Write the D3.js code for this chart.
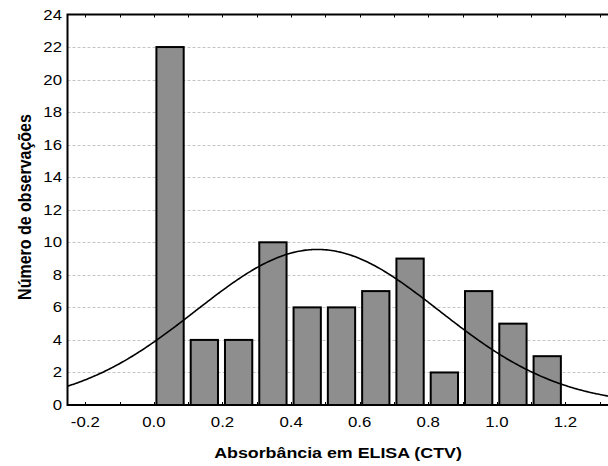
<!DOCTYPE html>
<html>
<head>
<meta charset="utf-8">
<script src="https://cdn.jsdelivr.net/npm/d3@7"></script>
<style>
  body { margin: 0; background: #fff; }
  svg { display: block; font-family: "Liberation Sans", Arial, sans-serif; }
</style>
</head>
<body>
<svg id="main" width="608" height="466"></svg>
<script>
// histogram bins (lower edge of each 0.1 wide class) and counts
var binStarts = [0.0, 0.1, 0.2, 0.3, 0.4, 0.5, 0.6, 0.7, 0.8, 0.9, 1.0, 1.1];
var counts = [22, 4, 4, 10, 6, 6, 7, 9, 2, 7, 5, 3];
var binWidth = 0.1;

var xTicks = [-0.2, 0.0, 0.2, 0.4, 0.6, 0.8, 1.0, 1.2];
var xTickLabels = ["-0.2", "0.0", "0.2", "0.4", "0.6", "0.8", "1.0", "1.2"];
var xMinorTicks = [-0.2, -0.1, 0.0, 0.1, 0.2, 0.3, 0.4, 0.5, 0.6, 0.7, 0.8, 0.9, 1.0, 1.1, 1.2, 1.3];
var yTicks = [0, 2, 4, 6, 8, 10, 12, 14, 16, 18, 20, 22, 24];

var margin = {left: 67.5, top: 14.5, right: -4, bottom: 61};
var W = 608, H = 466;
var stretch = 1.15; // text in the original looks a bit wide

var svg = d3.select("#main");

var x = d3.scaleLinear()
  .domain([-0.252, 1.336])
  .range([margin.left, W - margin.right]);
var y = d3.scaleLinear()
  .domain([0, 24])
  .range([H - margin.bottom, margin.top]);

// fitted normal curve, parameters taken from the binned counts
var n = d3.sum(counts);
var mids = binStarts.map(function(b) { return b + binWidth / 2; });
var mean = d3.sum(mids, function(m, i) { return m * counts[i]; }) / n;
var sd = Math.sqrt(d3.sum(mids, function(m, i) { return counts[i] * (m - mean) * (m - mean); }) / (n - 1));

function normalCount(v) {
  var z = (v - mean) / sd;
  return n * binWidth * Math.exp(-0.5 * z * z) / (sd * Math.sqrt(2 * Math.PI));
}

// grid lines
svg.append("g").selectAll("line")
  .data(yTicks.slice(1, -1))
  .enter().append("line")
  .attr("x1", x.range()[0]).attr("x2", x.range()[1])
  .attr("y1", function(d) { return Math.round(y(d)) + 0.5; })
  .attr("y2", function(d) { return Math.round(y(d)) + 0.5; })
  .style("stroke", "#c4c4c4")
  .style("stroke-dasharray", "3,2");

// bars
svg.append("g").selectAll("rect")
  .data(counts)
  .enter().append("rect")
  .attr("x", function(d, i) { return x(binStarts[i]) + 2.5; })
  .attr("width", function(d, i) { return x(binStarts[i] + binWidth) - x(binStarts[i]) - 7; })
  .attr("y", function(d) { return y(d); })
  .attr("height", function(d) { return y(0) - y(d); })
  .style("fill", "#8e8e8e")
  .style("stroke", "black")
  .style("stroke-width", 2);

// normal curve
var curveX = d3.range(x.domain()[0], x.domain()[1] + 0.001, 0.005);
var line = d3.line()
  .x(function(d) { return x(d); })
  .y(function(d) { return y(normalCount(d)); })
  .curve(d3.curveBasis);

svg.append("path")
  .datum(curveX)
  .attr("d", line)
  .style("fill", "none")
  .style("stroke", "black")
  .style("stroke-width", 1.6);

// frame
svg.append("rect")
  .attr("x", x.range()[0]).attr("y", y.range()[1])
  .attr("width", x.range()[1] - x.range()[0])
  .attr("height", y.range()[0] - y.range()[1])
  .style("fill", "none")
  .style("stroke", "black")
  .style("stroke-width", 2);

// inward ticks top and bottom
var tickG = svg.append("g");
xMinorTicks.forEach(function(t) {
  var px = Math.round(x(t)) + 0.5;
  tickG.append("line").attr("x1", px).attr("x2", px)
    .attr("y1", y(0)).attr("y2", y(0) - 3)
    .style("stroke", "black");
  tickG.append("line").attr("x1", px).attr("x2", px)
    .attr("y1", y(24)).attr("y2", y(24) + 3)
    .style("stroke", "black");
});

// x tick labels
svg.append("g").selectAll("text")
  .data(xTicks)
  .enter().append("text")
  .attr("transform", function(d) { return "translate(" + x(d) + "," + (y(0) + 22) + ") scale(1.2,1)"; })
  .attr("text-anchor", "middle")
  .style("font-size", "14px")
  .text(function(d, i) { return xTickLabels[i]; });

// y tick labels
svg.append("g").selectAll("text")
  .data(yTicks)
  .enter().append("text")
  .attr("transform", function(d) { return "translate(" + (margin.left - 5.5) + "," + (y(d) + 5) + ") scale(1.2,1)"; })
  .attr("text-anchor", "end")
  .style("font-size", "14px")
  .text(function(d) { return d; });

// axis titles
svg.append("text")
  .attr("transform", "translate(338,457.5) scale(" + stretch + ",1)")
  .attr("text-anchor", "middle")
  .style("font-size", "15.5px")
  .style("font-weight", "bold")
  .text("Absorbância em ELISA (CTV)");

svg.append("text")
  .attr("transform", "translate(30.5,207) scale(" + stretch + ",1) rotate(-90)")
  .attr("text-anchor", "middle")
  .style("font-size", "16px")
  .style("font-weight", "bold")
  .text("Número de observações");
</script>
</body>
</html>
